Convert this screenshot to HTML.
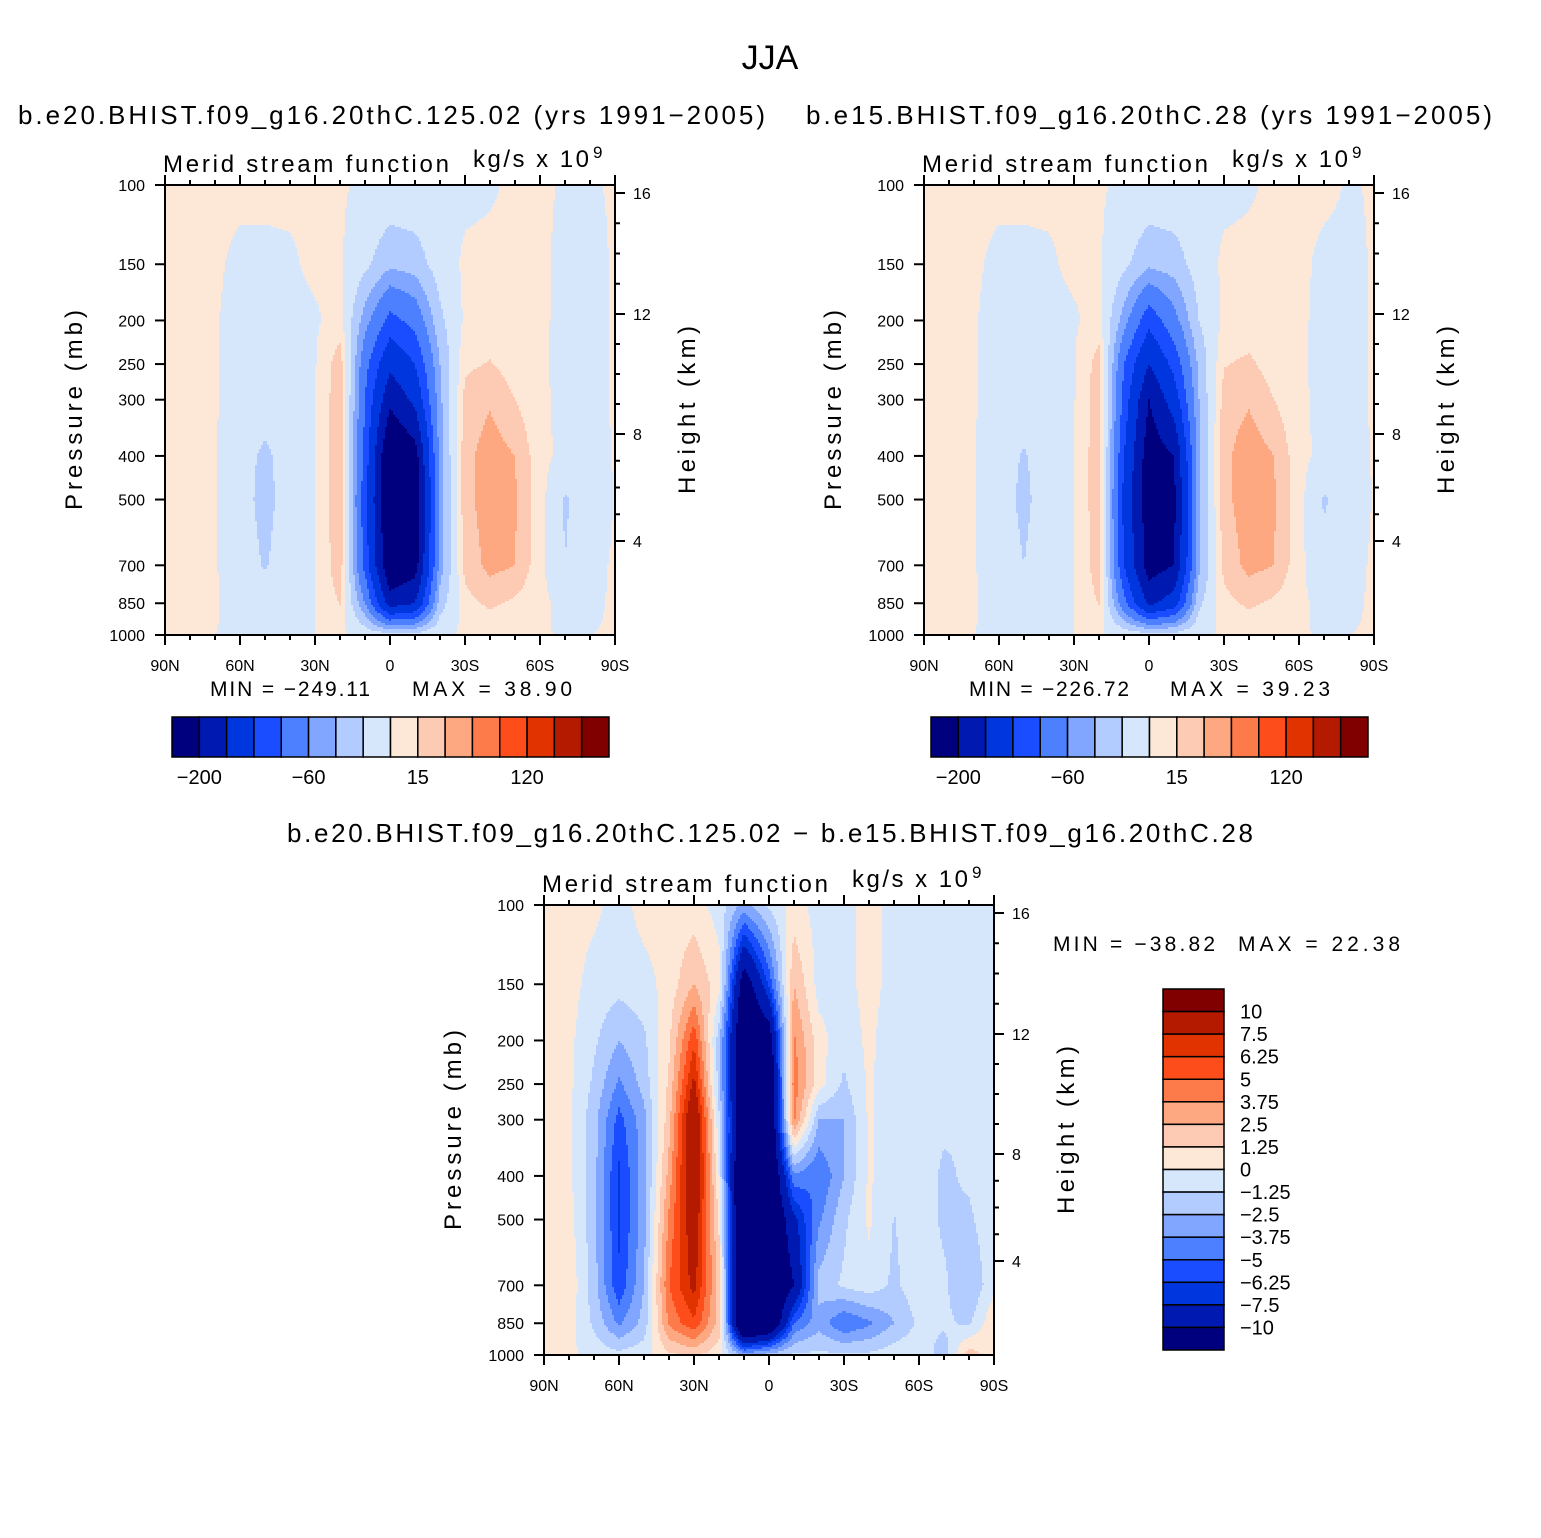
<!DOCTYPE html>
<html><head><meta charset="utf-8"><style>
html,body{margin:0;padding:0;background:#fff;}
svg{display:block;font-family:"Liberation Sans",sans-serif;}
.pre{white-space:pre;}
</style></head><body>
<svg id="fig" width="1541" height="1538" viewBox="0 0 1541 1538" xmlns="http://www.w3.org/2000/svg">
<rect width="1541" height="1538" fill="#fff"/>
<text x="770" y="69" font-size="34" text-anchor="middle">JJA</text>
<text x="18" y="124" font-size="26" textLength="747">b.e20.BHIST.f09_g16.20thC.125.02 (yrs 1991−2005)</text>
<text x="806" y="124" font-size="26" textLength="686">b.e15.BHIST.f09_g16.20thC.28 (yrs 1991−2005)</text>
<text x="287" y="842" font-size="26" textLength="966">b.e20.BHIST.f09_g16.20thC.125.02 − b.e15.BHIST.f09_g16.20thC.28</text>
<text x="210" y="696" font-size="21" textLength="160">MIN = −249.11</text>
<text x="412" y="696" font-size="21" textLength="160">MAX =  38.90</text>
<text x="969" y="696" font-size="21" textLength="160">MIN = −226.72</text>
<text x="1170" y="696" font-size="21" textLength="160">MAX =  39.23</text>
<text x="1053" y="951" font-size="21" textLength="162">MIN = −38.82</text>
<text x="1238" y="951" font-size="21" textLength="162">MAX =  22.38</text>
<g id="plots"></g>
</svg>
<script>
// ---- data ----
const latLabels = ["90N","60N","30N","0","30S","60S","90S"];
const pLevels = [100,150,200,250,300,400,500,700,850,1000];
const pTicks = [100,150,200,250,300,400,500,700,850,1000];
const hTicks = [16,12,8,4];
const hTickY = [193,314,434,541];
const levelsTop = [-200,-160,-120,-90,-60,-40,-20,0,15,30,50,80,120,160,200];
const levelsTopLabels = ["-200","-60","15","120"];
const levelsDiff = [-10,-7.5,-6.25,-5,-3.75,-2.5,-1.25,0,1.25,2.5,3.75,5,6.25,7.5,10];
const levelsDiffLabels = ["−10","−7.5","−6.25","−5","−3.75","−2.5","−1.25","0","1.25","2.5","3.75","5","6.25","7.5","10"];
const palette = ["#00007f","#0019b0","#0036dd","#1a4dff","#4d80ff","#80a6ff","#b3ccff","#d6e7fb","#fde8d8","#fdcbb3","#fda880","#fd7a4a","#fd4d1a","#e03300","#b31a00","#800000"];
// stream function grids: rows = pLevels, cols = 90N..90S every 10 deg
const psiA = [
[3,3,3,3,3,3,3,2,-3,-5,-5,-5,-4,-2,3,3,-2,-1,1],
[4,4,2,-3,-3,-2,3,2,-15,-35,-30,-10,3,4,4,2,-3,-3,1],
[4,4,1,-5,-5,-4,-2,6,-50,-100,-80,-25,3,6,5,2,-3,-3,1],
[4,4,1,-6,-8,-6,-1,24,-80,-150,-120,-40,12,16,8,2,-4,-3,1],
[4,4,1,-6,-8,-6,-1,26,-90,-190,-150,-45,20,28,15,3,-4,-3,1],
[4,4,1,-10,-25,-8,-1,27,-100,-250,-220,-50,25,38,30,5,-5,-5,1],
[4,4,1,-10,-28,-8,-1,27,-110,-250,-230,-50,25,38,32,6,-22,-12,1],
[4,4,1,-8,-22,-6,-1,25,-100,-240,-220,-50,20,35,30,5,-20,-5,2],
[3,3,1,-5,-6,-4,0,16,-60,-180,-160,-30,10,18,12,4,-5,-3,2],
[1,1,0,-1,-2,-1,0,2,-5,-10,-10,-3,2,3,2,1,-1,0,1]];
const psiB = [
[3,3,3,3,3,3,3,2,-3,-5,-5,-5,-4,-2,3,3,3,-1,1],
[4,4,2,-3,-3,-2,3,2,-15,-35,-30,-10,3,4,4,3,-3,-3,1],
[4,4,1,-5,-5,-4,-2,6,-50,-110,-70,-20,3,6,5,2,-3,-3,1],
[4,4,1,-6,-8,-6,-1,22,-90,-160,-110,-35,14,18,8,2,-4,-3,1],
[4,4,1,-6,-8,-6,-1,24,-100,-200,-140,-40,22,28,15,3,-4,-3,1],
[4,4,1,-10,-22,-8,-1,26,-120,-225,-200,-45,26,39,30,5,-5,-5,1],
[4,4,1,-10,-25,-8,-1,26,-130,-225,-210,-45,26,38,32,6,-22,-10,1],
[4,4,1,-8,-20,-6,-1,24,-120,-220,-200,-45,20,35,30,5,-15,-5,2],
[3,3,1,-5,-6,-4,0,16,-80,-170,-140,-25,10,18,12,4,-5,-3,2],
[1,1,0,-1,-2,-1,0,2,-5,-10,-10,-3,2,3,2,1,-1,0,1]];
const psiDiff = [
[0.5,0.5,0.3,-0.5,0.5,0.5,0.5,-0.5,-3,-1,0.5,-0.5,-0.5,0.5,-0.5,-0.5,-0.3,-0.3,-0.3],
[0.5,0.5,-0.5,-0.8,-0.5,0.5,2.5,0.5,-12,-6,2.5,-0.5,-0.5,0.5,-0.5,-0.5,-0.5,-0.5,-0.3],
[0.5,0.3,-1,-2.5,-1.5,1,6,-2,-14,-12,4,0.5,-0.8,0.3,-0.8,-0.5,-0.5,-0.5,-0.3],
[0.5,0.3,-1.5,-4,-2,1.5,8,-2,-14,-14,4.5,0.5,-1.5,0.2,-0.8,-0.5,-0.8,-0.8,-0.3],
[0.5,0.3,-2,-5.5,-3,2,10,-1,-14,-14,4,-2.5,-2.5,0.2,-0.8,-0.5,-1,-1.2,-0.3],
[0.5,0.3,-2,-6.5,-3,3,10,0,-16,-14,-4,-5,-2.5,0.2,-1,-0.5,-1.5,-1,-0.3],
[0.5,0.5,-2,-6.5,-3,4,9,1,-16,-14,-8,-4,-1.5,0.2,-1.3,-0.5,-1.5,-1.5,-0.3],
[0.3,1,-2,-6,-2.5,5,8,2,-16,-14,-10,-2,-1,-0.5,-1.5,-0.5,-1,-2.5,-0.3],
[0.3,0.5,-1.5,-4,-2,4,6,2,-16,-14,-5,-3,-5,-4,-2.5,-1,-1,-1.5,1],
[0,0.3,-0.5,-0.8,-0.5,1,1.5,0.5,-3,-2,-1,-1,-1,-1,-0.5,-0.3,-2,2,0.5]];

const NS="http://www.w3.org/2000/svg";
const root=document.getElementById('plots');
function mk(tag,attrs,parent,txt){const e=document.createElementNS(NS,tag);for(const k in attrs)e.setAttribute(k,attrs[k]);if(txt!==undefined)e.textContent=txt;(parent||root).appendChild(e);return e;}
const W=450,H=450,LN10=Math.log(10);
function yOfP(oy,p){return oy+H*Math.log(p/100)/LN10;}
function sample(grid,c,lp){
  let r=0;const lps=pLevels.map(Math.log);
  for(let k=0;k<lps.length-1;k++){if(lp>=lps[k]&&lp<=lps[k+1]){r=k+(lp-lps[k])/(lps[k+1]-lps[k]);break;} if(lp>lps[lps.length-1])r=lps.length-1;}
  const r0=Math.min(Math.floor(r),grid.length-2),fr=r-r0;
  const c0=Math.min(Math.floor(c),grid[0].length-2),fc=c-c0;
  const a=grid[r0][c0],b=grid[r0][c0+1],d=grid[r0+1][c0],e=grid[r0+1][c0+1];
  return (a*(1-fc)+b*fc)*(1-fr)+(d*(1-fc)+e*fc)*fr;
}
function colorIdx(v,lv){let i=0;while(i<lv.length&&v>=lv[i])i++;return i;}
function drawPanel(ox,oy,grid,lv,name){
  const g=mk('g',{});
  
  
  const dx=2,dy=2;
  for(let y=oy;y<oy+H;y+=dy){
    const lp=Math.log(100)+((y+dy/2-oy)/H)*LN10;
    let runStart=ox,runC=-1;
    for(let x=ox;x<=ox+W;x+=dx){
      let ci=-1;
      if(x<ox+W){const c=(x+dx/2-ox)/W*18;ci=colorIdx(sample(grid,c,lp),lv);}
      if(ci!==runC){
        if(runC>=0){const r=mk('rect',{x:runStart,y:y,width:x-runStart+0.6,height:dy+0.6,fill:palette[runC]},g);
          
          }
        runStart=x;runC=ci;
      }
    }
  }
  const f=mk('rect',{x:ox,y:oy,width:W,height:H,fill:'none',stroke:'#000','stroke-width':2});
  
  
  for(let k=0;k<=18;k++){
    const x=ox+k*W/18,len=(k%3===0)?10:5;
    mk('line',{x1:x,y1:oy+H,x2:x,y2:oy+H+len,stroke:'#000','stroke-width':2});
    mk('line',{x1:x,y1:oy,x2:x,y2:oy-len,stroke:'#000','stroke-width':2});
  }
  latLabels.forEach((l,k)=>{const t=mk('text',{x:ox+k*75,y:oy+H+36,'font-size':16,'text-anchor':'middle'},root,l);
    
    });
  pTicks.forEach(p=>{const y=yOfP(oy,p);
    mk('line',{x1:ox,y1:y,x2:ox-10,y2:y,stroke:'#000','stroke-width':2});
    const t=mk('text',{x:ox-20,y:y+6,'font-size':16,'text-anchor':'end'},root,String(p));
    
    });
  hTicks.forEach((h,k)=>{const y=oy+(hTickY[k]-185);
    mk('line',{x1:ox+W,y1:y,x2:ox+W+10,y2:y,stroke:'#000','stroke-width':2});
    const t=mk('text',{x:ox+W+18,y:y+6,'font-size':16},root,String(h));
    
    
    if(k<hTicks.length-1){const y2=oy+(hTickY[k+1]-185);for(let m=1;m<4;m++){const ym=y+(y2-y)*m/4;mk('line',{x1:ox+W,y1:ym,x2:ox+W+5,y2:ym,stroke:'#000','stroke-width':2});}}
  });
  const cy=oy+225;
  let t=mk('text',{x:0,y:0,'font-size':24,'text-anchor':'middle',transform:`translate(${ox-83},${cy}) rotate(-90)`,textLength:200},root,'Pressure (mb)');
  
  
  t=mk('text',{x:0,y:0,'font-size':24,'text-anchor':'middle',transform:`translate(${ox+W+80},${cy}) rotate(-90)`,textLength:168},root,'Height (km)');
  
  
  t=mk('text',{x:ox-2,y:oy-13,'font-size':24,textLength:286},root,'Merid stream function');
  
  
  t=mk('text',{x:ox+308,y:oy-18,'font-size':24,textLength:116},root,'kg/s x 10');
  
  
  mk('text',{x:ox+428,y:oy-27,'font-size':17},root,'9');
}
function hColorbar(x0,y0,w,h,lbls,name){
  const bw=w/16;
  palette.forEach((c,i)=>{const r=mk('rect',{x:x0+i*bw,y:y0,width:bw,height:h,fill:c,stroke:'#000','stroke-width':1.5});
    
    });
  [1,5,9,13].forEach((b,k)=>{const t=mk('text',{x:x0+b*bw,y:y0+h+27,'font-size':20,'text-anchor':'middle'},root,lbls[k].replace('-','−'));
    
    });
}
drawPanel(165,185,psiA,levelsTop,'left-panel');
drawPanel(924,185,psiB,levelsTop,'right-panel');
drawPanel(544,905,psiDiff,levelsDiff,'diff-panel');
hColorbar(172,717,437,40,levelsTopLabels,'left-colorbar');
hColorbar(931,717,437,40,levelsTopLabels,'right-colorbar');
const vb0=989,vbh=361/16;
palette.slice().reverse().forEach((c,i)=>{const r=mk('rect',{x:1163,y:vb0+i*vbh,width:61,height:vbh,fill:c,stroke:'#000','stroke-width':1.5});
  
  });
levelsDiffLabels.slice().reverse().forEach((l,i)=>{const t=mk('text',{x:1240,y:vb0+(i+1)*vbh+7,'font-size':20},root,l);
  
  });
</script>
</body></html>
